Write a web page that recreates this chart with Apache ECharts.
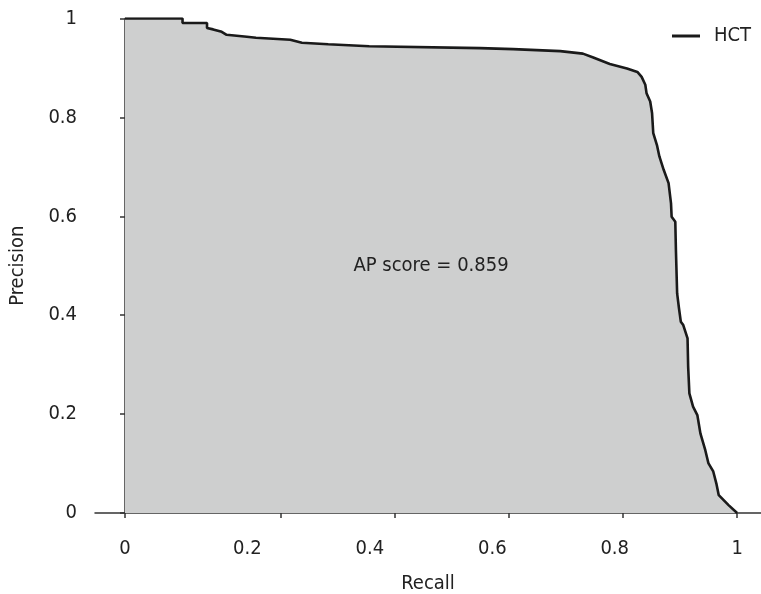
<!DOCTYPE html>
<html>
<head>
<meta charset="utf-8">
<script src="https://cdn.jsdelivr.net/npm/echarts@6/dist/echarts.min.js"></script>
<style>
  html, body { margin: 0; padding: 0; background: #fff; }
  #chart { width: 761px; height: 594px; }
</style>
</head>
<body>
<div id="chart"></div>
<script>
// Precision-recall curve for the HCT detector
const seriesName = 'HCT';
const recall = [
  0, 0.094, 0.094, 0.134, 0.134, 0.144, 0.158, 0.166, 0.199, 0.214,
  0.270, 0.289, 0.332, 0.399, 0.580, 0.634, 0.711, 0.711, 0.748, 0.765,
  0.792, 0.820, 0.837, 0.844, 0.850, 0.852, 0.858, 0.861, 0.863, 0.869,
  0.873, 0.880, 0.888, 0.892, 0.893, 0.899, 0.900, 0.902, 0.905, 0.908,
  0.912, 0.919, 0.920, 0.922, 0.928, 0.935, 0.940, 0.948, 0.953, 0.961,
  0.966, 0.970, 0.986, 1.000
];
const precision = [
  1.000, 1.000, 0.991, 0.991, 0.981, 0.978, 0.973, 0.967, 0.963, 0.961,
  0.957, 0.951, 0.948, 0.944, 0.940, 0.938, 0.934, 0.930, 0.929, 0.921,
  0.908, 0.899, 0.892, 0.882, 0.866, 0.849, 0.832, 0.809, 0.768, 0.744,
  0.721, 0.694, 0.667, 0.626, 0.599, 0.589, 0.532, 0.444, 0.414, 0.387,
  0.380, 0.353, 0.296, 0.242, 0.215, 0.198, 0.161, 0.127, 0.101, 0.084,
  0.060, 0.036, 0.016, 0.000
];
const apScore = 0.859;
const xLabelValues = [0, 0.2, 0.4, 0.6, 0.8, 1];
const xTickValues = [0, 0.255, 0.441, 0.627, 0.813, 1];

const font = '"DejaVu Sans Condensed", "Liberation Sans Narrow", sans-serif';
const fontSize = 20;
const textColor = '#222';
const axisColor = '#333';

const chart = echarts.init(document.getElementById('chart'), null, { renderer: 'canvas' });
chart.setOption({
  animation: false,
  backgroundColor: '#fff',
  textStyle: { fontFamily: font },
  grid: { left: 95, right: 0, top: 18.5, bottom: 81, containLabel: false, outerBoundsMode: 'none' },
  legend: {
    data: [seriesName],
    left: 667, top: 21,
    icon: 'rect', itemWidth: 28, itemHeight: 3,
    textStyle: { fontFamily: font, fontSize: fontSize, color: textColor, padding: [0, 0, 0, 9] }
  },
  xAxis: {
    type: 'value',
    min: -0.049, max: 1.039,
    name: 'Recall', nameLocation: 'middle', nameGap: 61,
    nameTextStyle: { fontFamily: font, fontSize: fontSize, color: textColor },
    axisLine: { show: true, lineStyle: { color: axisColor, width: 1.5 } },
    axisTick: { show: true, customValues: xTickValues, length: 5, inside: false,
                lineStyle: { color: axisColor, width: 1.5 } },
    axisLabel: { customValues: xLabelValues, margin: 26, fontFamily: font, fontSize: fontSize, color: textColor,
                 formatter: v => String(v) },
    splitLine: { show: false }
  },
  yAxis: {
    type: 'value',
    min: 0, max: 1, interval: 0.2,
    name: 'Precision', nameLocation: 'middle', nameGap: 67,
    nameTextStyle: { fontFamily: font, fontSize: fontSize, color: textColor },
    axisLine: { show: true, lineStyle: { color: axisColor, width: 1.5 } },
    axisTick: { show: true, length: 5, lineStyle: { color: axisColor, width: 1.5 } },
    axisLabel: { margin: 18, fontFamily: font, fontSize: fontSize, color: textColor,
                 formatter: v => String(Math.round(v * 10) / 10) },
    splitLine: { show: false }
  },
  series: [{
    name: seriesName,
    type: 'line',
    data: recall.map((r, i) => [r, precision[i]]),
    showSymbol: false,
    symbol: 'none',
    color: '#1a1a1a',
    lineStyle: { color: '#1a1a1a', width: 2.6 },
    areaStyle: { color: '#cecfcf', opacity: 1 },
    markPoint: {
      symbol: 'circle', symbolSize: 0,
      data: [{ coord: [0.5, 0.5], value: apScore }],
      label: {
        show: true, position: 'inside',
        formatter: 'AP score = ' + apScore,
        fontFamily: font, fontSize: fontSize, color: textColor
      }
    }
  }]
});
</script>
</body>
</html>
